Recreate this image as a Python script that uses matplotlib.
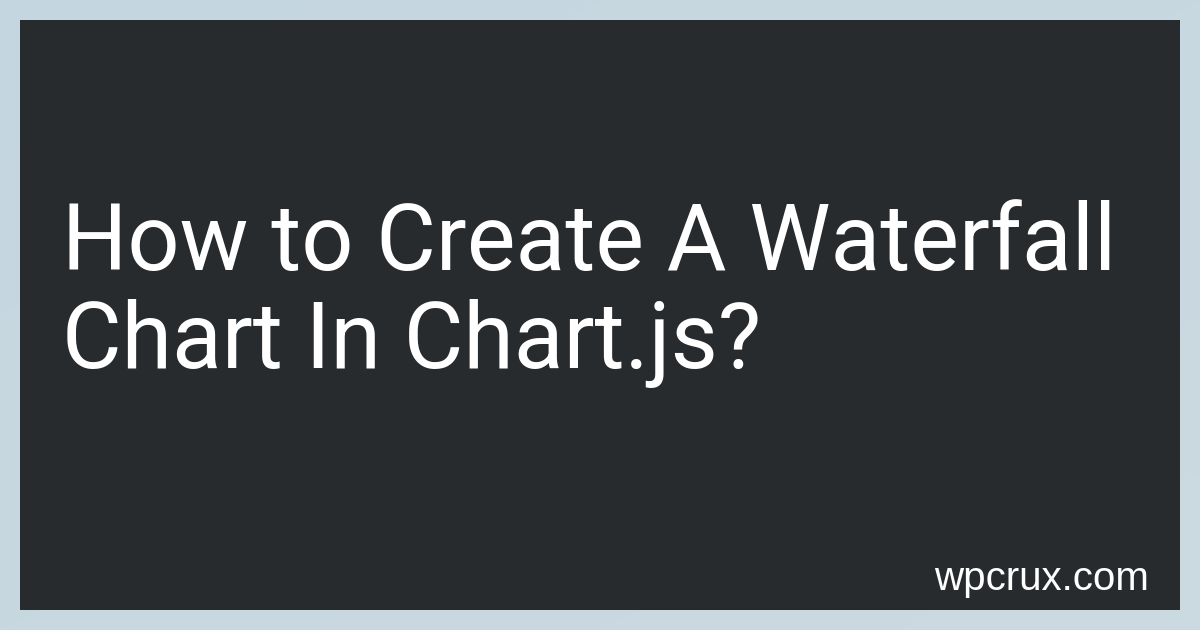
import matplotlib.pyplot as plt
from matplotlib.patches import Rectangle
import numpy as np

title_lines = ["How to Create A Waterfall", "Chart In Chart.js?"]
site_label = "wpcrux.com"

W, H = 1200, 630
fig = plt.figure(figsize=(12, 6.3), dpi=100)
ax = fig.add_axes([0, 0, 1, 1])
ax.set_xlim(0, W)
ax.set_ylim(H, 0)
ax.axis("off")

# light gradient background
yy, xx = np.mgrid[0:H, 0:W]
t = (xx / W + yy / H) / 2
c0 = np.array([0xc4, 0xd6, 0xe0]) / 255
c1 = np.array([0xcc, 0xda, 0xe1]) / 255
bg = c0[None, None, :] * (1 - t[..., None]) + c1[None, None, :] * t[..., None]
ax.imshow(bg, extent=(0, W, H, 0), zorder=0)

ax.add_patch(Rectangle((20, 20), 1160, 590, facecolor="#272b2e", edgecolor="none", zorder=1))

for i, line in enumerate(title_lines):
    ax.text(62, 270 + i * 98, line, color="white", fontsize=66, family="Roboto",
            va="baseline", ha="left", zorder=2)

ax.text(1149, 590, site_label, color="white", fontsize=29, family="Liberation Sans",
        va="baseline", ha="right", zorder=2)

fig.savefig("out.png", dpi=100)
